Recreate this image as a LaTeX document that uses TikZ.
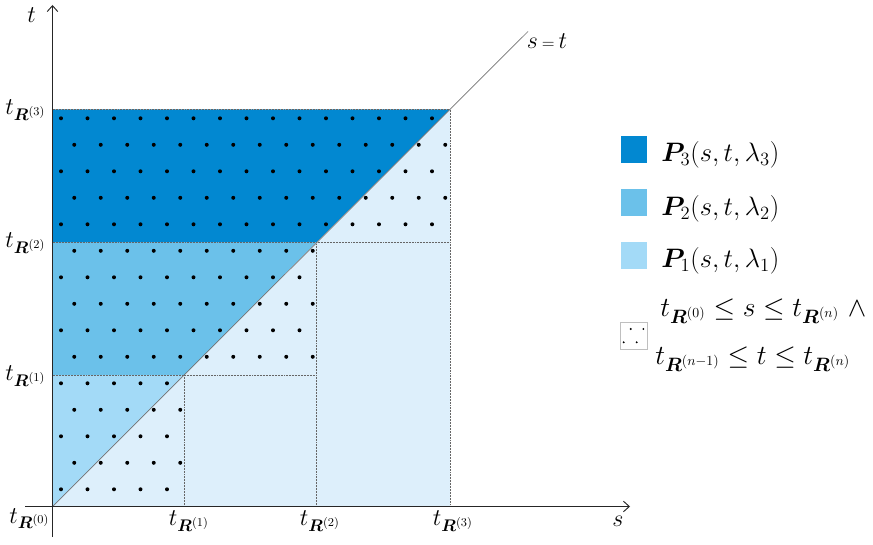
\RequirePackage{fix-cm}
\documentclass[tikz,border=0pt]{standalone}
\usepackage{amsmath,bm}
\usetikzlibrary{arrows.meta}
\definecolor{pthree}{HTML}{0288D1}
\definecolor{ptwo}{HTML}{6BC1EA}
\definecolor{pone}{HTML}{A3DAF7}
\definecolor{plow}{HTML}{DDEFFB}
\begin{document}
\begin{tikzpicture}[x=0.03cm,y=-0.03cm,
  font=\fontsize{20.5}{24}\selectfont,
  ticklab/.style={inner sep=0pt,font=\fontsize{19}{22}\selectfont,scale=1.08},
  leglab/.style={inner sep=0pt,anchor=base west,scale=1.11},
  condlab/.style={inner sep=0pt,anchor=base west,scale=1.15},
  axis/.style={draw=black!85,line width=0.8pt,-{Straight Barb[length=5pt,width=9pt]}},
  bound/.style={draw=black!60,line width=0.6pt,dash pattern=on 0.6pt off 0.7pt},
  diag/.style={draw=black!55,line width=0.6pt},
  lab/.style={inner sep=0pt},
  legbox/.style={minimum size=0.8cm,inner sep=0pt},
  dotmark/.style={fill=black}]
\useasboundingbox (0,0) rectangle (873,545);
% key points
\coordinate (O) at (52.5,506.5);
\coordinate (X1) at (184.5,506.5);
\coordinate (X2) at (316,506.5);
\coordinate (X3) at (450,506.5);
\coordinate (Y1) at (52.5,375);
\coordinate (Y2) at (52.5,242.5);
\coordinate (Y3) at (52.5,109.5);
\coordinate (D1) at (184.5,375);
\coordinate (D2) at (316,242.5);
\coordinate (D3) at (450,109.5);
\coordinate (E) at (528,31.5);
\coordinate (tb) at (52.5,537);
\coordinate (tt) at (52.5,5);
\coordinate (sl) at (25,506.5);
\coordinate (sr) at (630,506.5);
% regions
\fill[plow] (O) -- (X3) -- (D3) -- cycle;
\fill[pone] (O) -- (D1) -- (Y1) -- cycle;
\fill[ptwo] (Y1) -- (D1) -- (D2) -- (Y2) -- cycle;
\fill[pthree] (Y2) -- (D2) -- (D3) -- (Y3) -- cycle;
% dotted boundaries
\draw[bound] (Y3) -- (D3) -- (X3);
\draw[bound] (Y2) -- (Y2 -| X3);
\draw[bound] (D2) -- (X2);
\draw[bound] (Y1) -- (Y1 -| X2);
\draw[bound] (D1) -- (X1);
% diagonal
\draw[diag] (O) -- (E);
% dots
\foreach \k in {0,...,14}{
  \pgfmathsetmacro{\yy}{118.3+26.5*\k}
  \pgfmathsetmacro{\xs}{isodd(\k) ? 74.25 : 61}
  \pgfmathtruncatemacro{\nn}{\k<5 ? 14 : (\k<10 ? 9 : 4)}
  \foreach \j in {0,...,\nn}{
    \fill[dotmark] (\xs+26.5*\j,\yy) circle[radius=1.7pt];
  }
}
% axes
\draw[axis] (tb) -- (tt);
\draw[axis] (sl) -- (sr);
% axis labels
\node[lab] (tlab) at (31.7,15) {$t$};
\node[lab] (slab) at (618,521) {$s$};
\node[lab] (stlab) at (547,41) {$s\,{\scriptstyle =}\,t$};
% tick labels
\node[ticklab,anchor=base east] (l3) at (46,115) {$t_{\bm{R}^{(3)}}$};
\node[ticklab,anchor=base east] (l2) at (46,248) {$t_{\bm{R}^{(2)}}$};
\node[ticklab,anchor=base east] (l1) at (46,380.5) {$t_{\bm{R}^{(1)}}$};
\node[ticklab,anchor=base east] (l0) at (50,523) {$t_{\bm{R}^{(0)}}$};
\node[ticklab,anchor=base] (b1) at (189,525.5) {$t_{\bm{R}^{(1)}}$};
\node[ticklab,anchor=base] (b2) at (320,525.5) {$t_{\bm{R}^{(2)}}$};
\node[ticklab,anchor=base] (b3) at (453,525.5) {$t_{\bm{R}^{(3)}}$};
% legend
\node[legbox,fill=pthree] (k3) at (634,149.3) {};
\node[legbox,fill=ptwo] (k2) at (634,202.6) {};
\node[legbox,fill=pone] (k1) at (634,255.5) {};
\node[legbox,draw=black!25,line width=0.6pt,fill=white] (k0) at (634,336) {};
\fill[dotmark] (630.7,329) circle[radius=0.9pt];
\fill[dotmark] (643.3,329) circle[radius=0.9pt];
\fill[dotmark] (623.7,342.3) circle[radius=0.9pt];
\fill[dotmark] (636.7,342.3) circle[radius=0.9pt];
\node[leglab] (e3) at (661,162) {$\bm{P}_3(s,t,\lambda_3)$};
\node[leglab] (e2) at (661,215.5) {$\bm{P}_2(s,t,\lambda_2)$};
\node[leglab] (e1) at (661,267.5) {$\bm{P}_1(s,t,\lambda_1)$};
\node[condlab] (e0a) at (660,316.7) {$t_{\bm{R}^{(0)}} \le s \le t_{\bm{R}^{(n)}}\ \wedge$};
\node[condlab] (e0b) at (655,365) {$t_{\bm{R}^{(n-1)}} \le t \le t_{\bm{R}^{(n)}}$};
\end{tikzpicture}
\end{document}
